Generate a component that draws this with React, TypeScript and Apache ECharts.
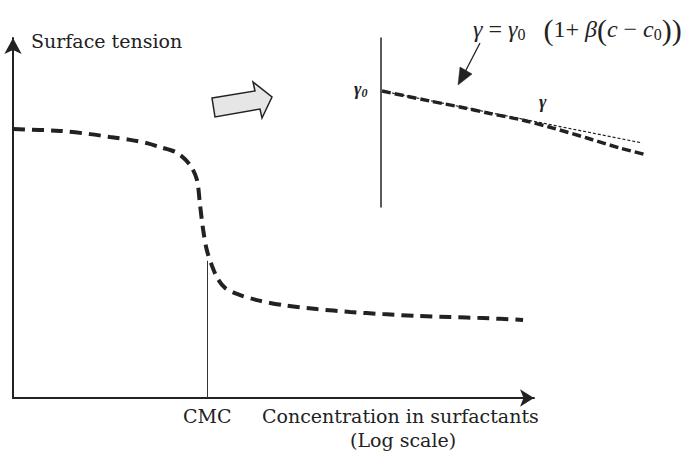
import React, { useEffect, useRef } from "react";
import * as echarts from "echarts";

// Main curve: surface tension vs log concentration (schematic units 0..100)
const mainX = [0, 9.0, 14.8, 18.6, 22.5, 25.7, 28.2, 31.5, 34.0, 35.3, 35.9, 36.5, 37.2, 38.2, 39.3, 40.7, 43.0, 46.8, 51.8, 58.3, 64.7, 71.0, 77.5, 83.9, 90.2, 97.9];
const mainY = [74.7, 74.2, 73.3, 72.5, 71.7, 70.8, 69.7, 68.1, 64.7, 60.6, 53.6, 46.7, 41.1, 36.7, 33.1, 30.6, 28.9, 27.2, 25.8, 24.7, 23.9, 23.3, 22.8, 22.5, 22.2, 21.7];
const cmcX = 37.2;
const cmcTop = 38.1;

// Inset: real curve (thick dashed) and linear approximation (thin dashed)
const insetX = [0.4, 18.1, 29.3, 40.4, 52.2, 63.7, 76.3, 88.5, 98.5];
const insetY = [68.6, 62.7, 59.2, 55.3, 51.5, 46.7, 40.8, 34.9, 30.8];
const linX = [0.4, 96.7];
const linY = [68.6, 37.9];

const zip = (a: number[], b: number[]) => a.map((v, i) => [v, b[i]]);

export default function App() {
  const ref = useRef<HTMLDivElement>(null);
  useEffect(() => {
    document.body.style.margin = "0";
    if (!ref.current) return;
    const chart = echarts.init(ref.current, undefined, { renderer: "svg" });
    const serif = "DejaVu Serif";
    const times = "Liberation Serif";
    const ink = "#222";
    chart.setOption({
      animation: false,
      backgroundColor: "#fff",
      grid: [
        { left: 13, right: 151, top: 38, bottom: 57 },
        { left: 381, right: 34, top: 38, bottom: 248 },
      ],
      xAxis: [
        {
          gridIndex: 0, type: "value", min: 0, max: 100,
          axisLine: { show: true, onZero: false, lineStyle: { color: ink, width: 2 }, symbol: ["none", "arrow"], symbolSize: [13, 14] },
          axisTick: { show: false }, axisLabel: { show: false }, splitLine: { show: false },
        },
        {
          gridIndex: 1, type: "value", min: 0, max: 100, show: false,
        },
      ],
      yAxis: [
        {
          gridIndex: 0, type: "value", min: 0, max: 100,
          axisLine: { show: true, onZero: false, lineStyle: { color: ink, width: 2 }, symbol: ["none", "arrow"], symbolSize: [13, 16] },
          axisTick: { show: false }, axisLabel: { show: false }, splitLine: { show: false },
        },
        {
          gridIndex: 1, type: "value", min: 0, max: 100,
          axisLine: { show: true, onZero: false, lineStyle: { color: ink, width: 1.5 } },
          axisTick: { show: false }, axisLabel: { show: false }, splitLine: { show: false },
        },
      ],
      series: [
        {
          type: "line", xAxisIndex: 0, yAxisIndex: 0, data: zip(mainX, mainY),
          smooth: 0.3, showSymbol: false, symbol: "none",
          lineStyle: { color: ink, width: 4, type: [12, 7] },
          markLine: {
            silent: true, symbol: "none", label: { show: false },
            lineStyle: { color: "#333", width: 1, type: "solid" },
            data: [[{ coord: [cmcX, cmcTop] }, { coord: [cmcX, 0] }]],
          },
        },
        {
          type: "line", xAxisIndex: 1, yAxisIndex: 1, data: zip(insetX, insetY),
          smooth: 0.3, showSymbol: false, symbol: "none",
          lineStyle: { color: ink, width: 3.5, type: [9, 4] },
        },
        {
          type: "line", xAxisIndex: 1, yAxisIndex: 1, data: zip(linX, linY),
          showSymbol: false, symbol: "none",
          lineStyle: { color: ink, width: 1.2, type: [3, 2] },
        },
      ],
      graphic: [
        { type: "text", left: 31, top: 31, style: { text: "Surface tension", font: `19px '${serif}'`, fill: ink } },
        { type: "text", left: 183, top: 406, style: { text: "CMC", font: `19px '${serif}'`, fill: ink } },
        { type: "text", left: 262, top: 406, style: { text: "Concentration in surfactants", font: `19px '${serif}'`, fill: ink } },
        { type: "text", left: 350, top: 430, style: { text: "(Log scale)", font: `19px '${serif}'`, fill: ink } },
        {
          type: "polygon",
          shape: { points: [[212, 98], [255, 91], [253, 82], [272, 97], [262, 118], [260, 109], [215, 117]] },
          style: { fill: "#e6e6e6", stroke: ink, lineWidth: 1.5 },
        },
        {
          type: "text", left: 354, top: 80,
          style: {
            text: "{g|γ}{s|0}",
            rich: {
              g: { font: `italic bold 18px '${times}'`, fill: ink },
              s: { font: `italic bold 12px '${times}'`, fill: ink, padding: [8, 0, 0, 0] },
            },
          },
        },
        { type: "text", left: 539, top: 93, style: { text: "γ", font: `italic bold 18px '${times}'`, fill: ink } },
        {
          type: "text", left: 473, top: 14,
          style: {
            text: "{i|γ}{n| = }{i|γ}{s|0}{n|   }{p|(}{n|1+ }{i|β}{p|(}{i|c}{n| − }{i|c}{s|0}{p|))}",
            rich: {
              i: { font: `italic 24px '${times}'`, fill: ink },
              n: { font: `24px '${times}'`, fill: ink },
              s: { font: `16px '${times}'`, fill: ink, padding: [10, 0, 0, 0] },
              p: { font: `30px '${times}'`, fill: ink },
            },
          },
        },
        { type: "line", shape: { x1: 480, y1: 43, x2: 465, y2: 72 }, style: { stroke: ink, lineWidth: 1.3 } },
        { type: "polygon", shape: { points: [[458, 85], [460, 67], [472, 74]] }, style: { fill: ink, stroke: ink, lineWidth: 0.5 } },
      ],
    });
    return () => chart.dispose();
  }, []);
  return <div ref={ref} style={{ width: 685, height: 455 }} />;
}
